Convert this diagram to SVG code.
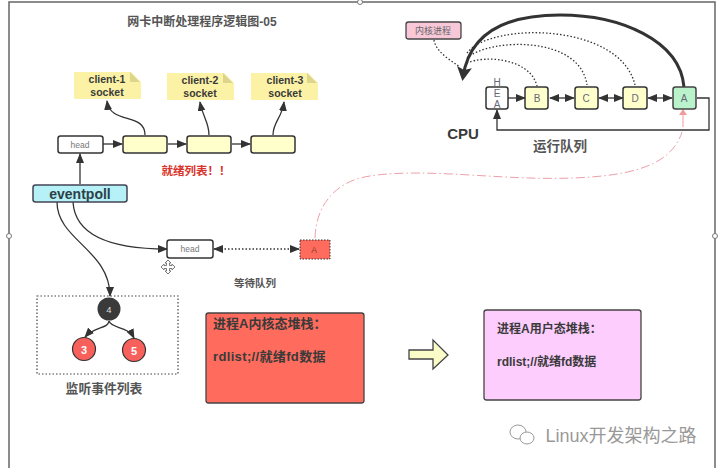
<svg xmlns="http://www.w3.org/2000/svg" width="720" height="468" viewBox="0 0 720 468">
<style>
text{font-family:"Liberation Sans","Noto Sans CJK SC",sans-serif;fill:#3a3a3a;text-anchor:middle}
.b{font-weight:bold}
.box{stroke:#333;stroke-width:1.5}
.yl{fill:#ffffcc}
.wh{fill:#fff}
.note{fill:#fbf2a5}
.c{fill:none;stroke:#333;stroke-width:1.3}
.a{marker-end:url(#ah)}
.d{stroke-dasharray:1.5 2}
.g{fill:#777;font-size:8.5px}
.l{fill:#667;font-size:10px}
.n{font-size:10.5px;font-weight:bold}
.m{font-size:13px;font-weight:bold;text-anchor:start}
.u{font-size:12px;font-weight:bold;text-anchor:start}
</style>
<defs>
<marker id="ah" markerWidth="10" markerHeight="8" refX="9" refY="4" orient="auto" markerUnits="userSpaceOnUse"><path d="M0 0L10 4L0 8z" fill="#333"/></marker>
<marker id="as" markerWidth="10" markerHeight="8" refX="1" refY="4" orient="auto" markerUnits="userSpaceOnUse"><path d="M10 0L0 4L10 8z" fill="#333"/></marker>
<marker id="big" markerWidth="14" markerHeight="15" refX="10" refY="7.5" orient="auto" markerUnits="userSpaceOnUse"><path d="M0 0L14 7.5L0 15L3 7.5z" fill="#333"/></marker>
<marker id="pk" markerWidth="6" markerHeight="9" refX="5" refY="4" orient="auto" markerUnits="userSpaceOnUse"><path d="M0 0L6 4L0 8z" fill="#f29b9b"/></marker>
</defs>
<rect width="720" height="468" fill="#fff"/>
<g id="frame" fill="none">
<path d="M9 468V2H715V468" stroke="#666" stroke-width="1.5"/>
<circle cx="9" cy="236" r="2.5" fill="#fff" stroke="#777"/>
<circle cx="360" cy="2" r="2.5" fill="#fff" stroke="#777"/>
<circle cx="715" cy="236" r="2.5" fill="#fff" stroke="#777"/>
</g>
<g id="connectors">
<path class="c a" d="M103 144H122"/>
<path class="c a" d="M168 144H186"/>
<path class="c a" d="M232 144H250"/>
<path class="c a" d="M80 184V154"/>
<path class="c a" d="M145 135C145 112 110 125 107 101"/>
<path class="c a" d="M209 135C209 122 203 118 200 102"/>
<path class="c a" d="M273 135C273 122 282 118 284 102"/>
<path class="c a" d="M57 202C57 240 110 250 110 296"/>
<path class="c a" d="M73 202C75 235 110 249 167 249"/>
<path class="c d a" d="M214 249H299" marker-start="url(#as)" stroke-width="1.6"/>
<path class="c a" d="M109 321C108 329 95 326 85 337"/>
<path class="c a" d="M109 321C112 329 128 326 134 338"/>
<path d="M315 238C316 205 335 185 360 178C385 172 420 172 470 175C520 178 545 179 573 178C620 176 670 170 682 132" fill="none" stroke="#eca0a8" stroke-dasharray="9 3 1.5 3" stroke-width="1"/>
<path d="M683 127V110" fill="none" stroke="#f29b9b" marker-end="url(#pk)"/>
<path d="M684 87C680 40 620 15 560 15C510 15 470 30 463 77" fill="none" stroke="#333" stroke-width="3" marker-end="url(#big)"/>
<path class="c d" d="M467 63C485 55 530 58 537 86"/>
<path class="c d" d="M467 58C490 38 580 35 587 85"/>
<path class="c d" d="M467 53C490 22 620 22 635 85"/>
<path class="c d" d="M434 40C436 52 450 60 460 67"/>
<path class="c a" d="M508 98H525"/>
<path class="c a" d="M550 98H574" marker-start="url(#as)"/>
<path class="c a" d="M599 98H623" marker-start="url(#as)"/>
<path class="c a" d="M648 98H672" marker-start="url(#as)"/>
<path class="c a" d="M697 98H709V130H497V110" stroke-width="1.5"/>
</g>
<g id="title"><text x="202" y="26" class="b" font-size="12" style="fill:#555">网卡中断处理程序逻辑图-05</text></g>
<g id="client-1"><path class="note" d="M74 72H131L141 82V99H74z"/><path d="M130 72L140 82H130z" fill="#dcd68c"/><text x="107" y="83" class="n">client-1</text><text x="107" y="96" class="n">socket</text></g>
<g id="client-2"><path class="note" d="M167 73H224L234 83V100H167z"/><path d="M223 73L233 83H223z" fill="#dcd68c"/><text x="200" y="84" class="n">client-2</text><text x="200" y="97" class="n">socket</text></g>
<g id="client-3"><path class="note" d="M251 73H308L318 83V100H251z"/><path d="M307 73L317 83H307z" fill="#dcd68c"/><text x="285" y="84" class="n">client-3</text><text x="285" y="97" class="n">socket</text></g>
<g id="head-ready"><rect x="58" y="136" width="45" height="17" rx="2.5" class="box wh"/><text x="80" y="148" class="g">head</text></g>
<g id="ready-1"><rect x="123" y="136" width="44" height="17" rx="2.5" class="box yl"/></g>
<g id="ready-2"><rect x="187" y="136" width="44" height="17" rx="2.5" class="box yl"/></g>
<g id="ready-3"><rect x="251" y="136" width="44" height="17" rx="2.5" class="box yl"/></g>
<g id="ready-label"><text x="196" y="175" class="b" font-size="11.5" style="fill:#d9342b">就绪列表！！</text></g>
<g id="eventpoll"><rect x="33" y="185" width="94" height="17" rx="2.5" fill="#b5f1f7" stroke="#445" stroke-width="1.5"/><text x="80" y="198.500" class="b" font-size="14" style="fill:#2d4048">eventpoll</text></g>
<g id="head-wait"><rect x="167" y="240" width="46" height="18" rx="2.5" class="box wh"/><text x="190" y="252" class="g">head</text></g>
<g id="wait-a"><rect x="300" y="240" width="30" height="19" fill="#ff6b5c" stroke="#333" stroke-dasharray="1.500 1.500"/><text x="314" y="253" class="g" style="fill:#8a3a33">A</text></g>
<g id="wait-label"><text x="255" y="287" class="b" font-size="10.5" style="fill:#555">等待队列</text></g>
<g id="move-cursor" fill="#fff" stroke="#777"><path d="M168 260L171 263H169.500V265.500H172V264L175 267L172 270V268.500H169.500V271H171L168 274L165 271H166.500V268.500H164V270L161 267L164 264V265.500H166.500V263H165z"/></g>
<g id="listen-set"><rect x="37" y="296" width="141" height="78" fill="none" stroke="#444" stroke-dasharray="1.500 2" stroke-width="1.200"/></g>
<g id="node-4"><circle cx="109" cy="309" r="11.500" fill="#3a3a3a"/><text x="109" y="313" font-size="9.500" style="fill:#ddd">4</text></g>
<g id="node-3"><circle cx="84" cy="349" r="11.500" fill="#f8605c" stroke="#333" stroke-width="1.200"/><text x="84" y="354" font-size="11" class="b" style="fill:#fff">3</text></g>
<g id="node-5"><circle cx="134" cy="350" r="11.500" fill="#f8605c" stroke="#333" stroke-width="1.200"/><text x="134" y="355" font-size="11" class="b" style="fill:#fff">5</text></g>
<g id="listen-label"><text x="104" y="393" class="b" font-size="12.800" style="fill:#555">监听事件列表</text></g>
<g id="kernel-stack"><rect x="206" y="313" width="158" height="90" rx="2.500" fill="#ff6b5c" stroke="#444" stroke-width="1.300"/><text x="213" y="328" class="m">进程A内核态堆栈：</text><text x="213" y="361" class="m" style="letter-spacing:.35px">rdlist;//就绪fd数据</text></g>
<g id="big-arrow"><path d="M409 350H433V340L448 355L433 369V359H409z" fill="#fbfdc8" stroke="#444" stroke-width="1.300"/></g>
<g id="user-stack"><rect x="484" y="310" width="157" height="90" rx="2.500" fill="#fdcdfd" stroke="#444" stroke-width="1.300"/><text x="497" y="333" class="u">进程A用户态堆栈：</text><text x="497" y="366" class="u">rdlist;//就绪fd数据</text></g>
<g id="kernel-process"><rect x="406" y="22" width="55" height="17" rx="2.500" fill="#f8c8d8" stroke="#444" stroke-width="1.300"/><text x="433" y="34" class="g" style="fill:#666;font-size:9px">内核进程</text></g>
<g id="run-head"><rect x="486" y="87" width="22" height="22" rx="2.500" class="box wh"/><text x="497" y="86" class="l">H</text><text x="497" y="97" class="l">E</text><text x="497" y="108" class="l">A</text></g>
<g id="run-b"><rect x="525" y="87" width="23" height="22" rx="2.500" class="box yl"/><text x="537" y="102" class="l">B</text></g>
<g id="run-c"><rect x="575" y="87" width="23" height="22" rx="2.500" class="box yl"/><text x="586" y="102" class="l">C</text></g>
<g id="run-d"><rect x="623" y="87" width="24" height="22" rx="2.500" class="box yl"/><text x="635" y="102" class="l">D</text></g>
<g id="run-a"><rect x="673" y="87" width="23" height="22" rx="2.500" fill="#b9f2cb" stroke="#444" stroke-width="1.500"/><text x="684" y="102" class="l">A</text></g>
<g id="cpu-label"><text x="463" y="139" class="b" font-size="15">CPU</text></g>
<g id="run-label"><text x="560" y="151" class="b" font-size="13.500" style="fill:#555">运行队列</text></g>
<g id="watermark"><ellipse cx="518" cy="432" rx="8" ry="7" fill="#fff" stroke="#999"/><ellipse cx="527" cy="438" rx="7" ry="6" fill="#fff" stroke="#999"/><text x="621" y="442" font-size="18" style="fill:#999">Linux开发架构之路</text></g>
</svg>
